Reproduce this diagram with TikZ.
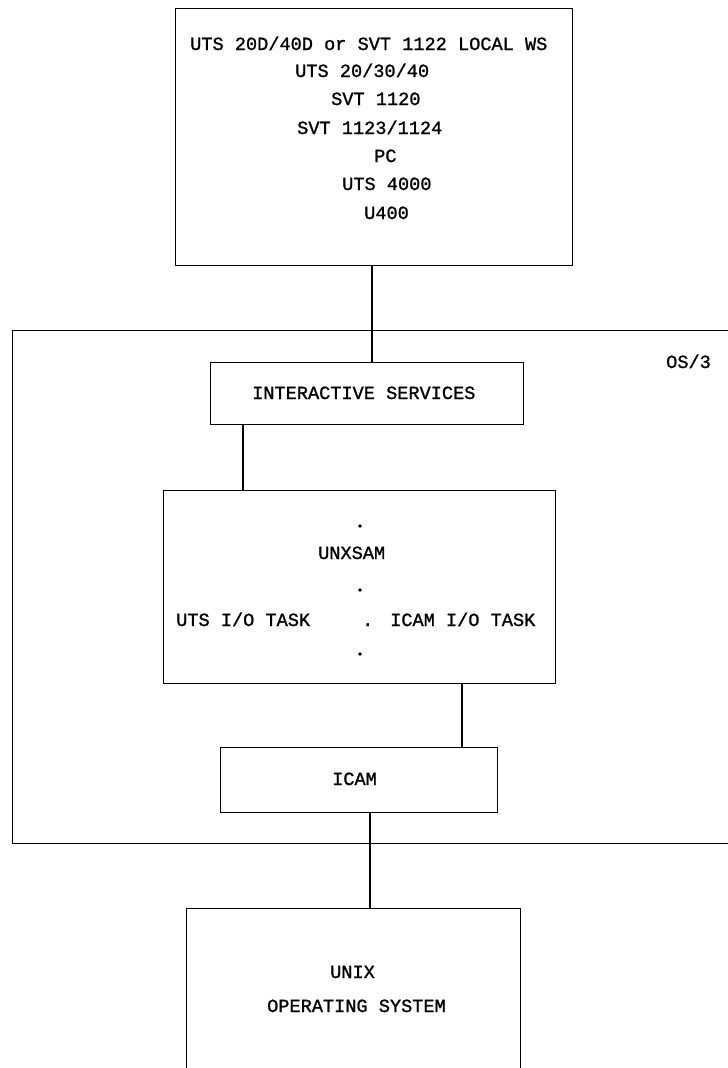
\documentclass[tikz,border=0pt]{standalone}
\usepackage{fontspec}
\newfontfamily\plotfont[FakeBold=1.2]{Liberation Mono}
\begin{document}
\begin{tikzpicture}[x=1pt,y=-1pt,
  box/.style={draw, line width=1.4pt, inner sep=0pt, anchor=north west},
  conn/.style={draw, line width=1.1pt},
  lbl/.style={font=\plotfont\fontsize{18.6}{20}\selectfont, inner sep=0pt, anchor=base west},
  dotn/.style={circle, fill, inner sep=0pt, minimum size=3.8pt}]
\useasboundingbox (0,0) rectangle (728,1068);
% boxes
\node[box, minimum width=397pt, minimum height=257pt] (top) at (175,8) {};
\node[box, minimum width=740pt, minimum height=513pt] (os3) at (12,330) {};
\node[box, minimum width=313pt, minimum height=62pt] (is) at (210,362) {};
\node[box, minimum width=392pt, minimum height=193pt] (unx) at (163,490) {};
\node[box, minimum width=277pt, minimum height=65pt] (icam) at (220,747) {};
\node[box, minimum width=334pt, minimum height=175pt] (unix) at (186,908) {};
% top box texts
\node[lbl] (t1) at (190,50) {UTS 20D/40D or SVT 1122 LOCAL WS};
\node[lbl] (t2) at (295,77) {UTS 20/30/40};
\node[lbl] (t3) at (331,105) {SVT 1120};
\node[lbl] (t4) at (297,134) {SVT 1123/1124};
\node[lbl] (t5) at (374,162) {PC};
\node[lbl] (t6) at (342,190) {UTS 4000};
\node[lbl] (t7) at (364,219) {U400};
% os3 label
\node[lbl] (os3l) at (666,368) {OS/3};
% interactive services
\node[lbl] (isl) at (252,399) {INTERACTIVE SERVICES};
% unxsam
\node[dotn] (d1) at (360,526) {};
\node[lbl] (ul) at (318,559) {UNXSAM};
\node[dotn] (d2) at (360,590) {};
\node[lbl] (uts) at (176,626) {UTS I/O TASK};
\node[lbl] (mid) at (362,626) {.};
\node[lbl] (icio) at (390,626) {ICAM I/O TASK};
\node[dotn] (d3) at (360,654) {};
% icam
\node[lbl] (icl) at (332,785) {ICAM};
% unix
\node[lbl] (ux1) at (330,978) {UNIX};
\node[lbl] (ux2) at (267,1012) {OPERATING SYSTEM};
% connector x positions
\coordinate (c1) at (372,0);
\coordinate (c2) at (243,0);
\coordinate (c3) at (462,0);
\coordinate (c4) at (370,0);
\draw[conn] (top.south -| c1) -- (is.north -| c1);
\draw[conn] (is.south -| c2) -- (unx.north -| c2);
\draw[conn] (unx.south -| c3) -- (icam.north -| c3);
\draw[conn] (icam.south -| c4) -- (unix.north -| c4);
\end{tikzpicture}
\end{document}
